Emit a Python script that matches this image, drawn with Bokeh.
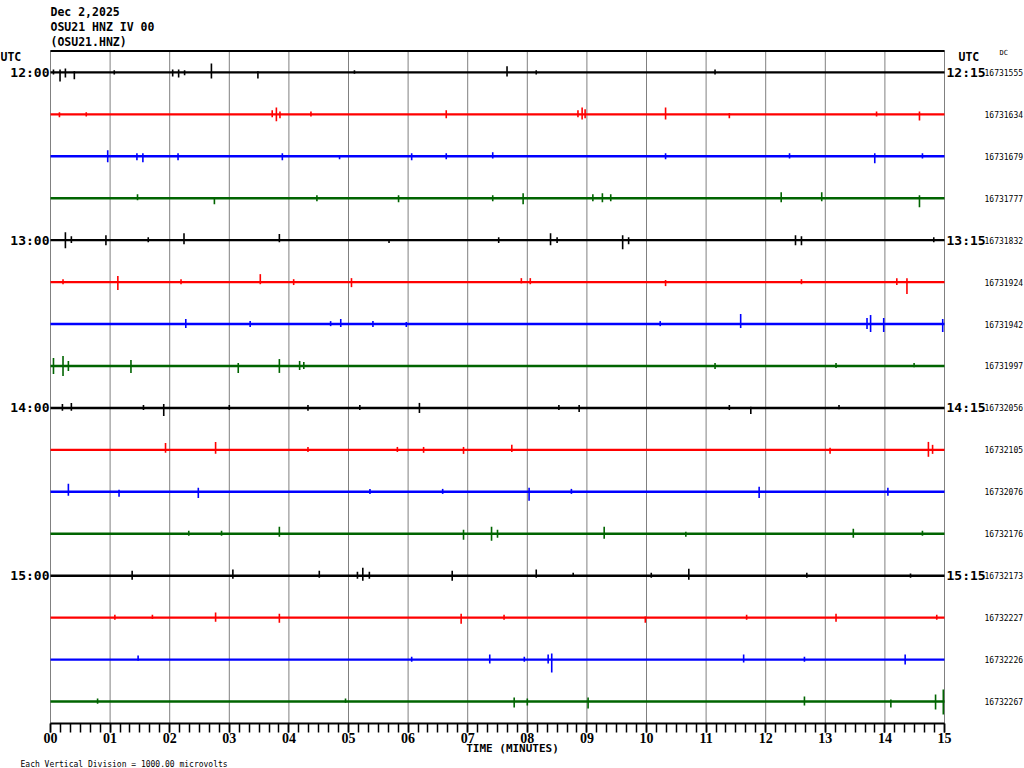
from bokeh.plotting import figure
from bokeh.models import Range1d, FixedTicker, Label, Title, ColumnDataSource
from bokeh.embed import file_html
from bokeh.resources import INLINE

# ---------------- data ----------------
date_text = "Dec 2,2025"
station_text = "OSU21 HNZ IV 00"
channel_text = "(OSU21.HNZ)"
scale_note = "Each Vertical Division = 1000.00 microvolts"
x_title = "TIME (MINUTES)"

left_hours = ["12:00", "13:00", "14:00", "15:00"]      # rows 0, 4, 8, 12
right_hours = ["12:15", "13:15", "14:15", "15:15"]
dc_values = ["16731555", "16731634", "16731679", "16731777",
             "16731832", "16731924", "16731942", "16731997",
             "16732056", "16732105", "16732076", "16732176",
             "16732173", "16732227", "16732226", "16732267"]
trace_colors = ["#000000", "#ff0000", "#0000ff", "#006400"]
minute_labels = ["%02d" % m for m in range(16)]

# seismic events per line: (minute, amplitude up [uV], amplitude down [uV])
ev_r00 = [(0.05, 70, 50), (0.16, 70, 215), (0.25, 95, 120), (0.40, 30, 165), (1.07, 50, 50),
          (2.05, 70, 95), (2.15, 70, 120), (2.25, 50, 70), (2.70, 215, 145), (3.48, 25, 145),
          (5.10, 50, 30), (7.66, 145, 95), (8.15, 50, 50), (11.15, 70, 50)]
ev_r01 = [(0.15, 50, 70), (0.60, 50, 50), (3.72, 95, 70), (3.79, 165, 165), (3.85, 70, 95),
          (4.37, 70, 50), (6.64, 95, 95), (8.85, 95, 70), (8.92, 165, 120), (8.97, 120, 95),
          (10.32, 165, 120), (11.39, 30, 95), (13.86, 70, 50), (14.58, 70, 145)]
ev_r02 = [(0.96, 145, 145), (1.45, 70, 95), (1.55, 70, 145), (2.14, 70, 95), (3.89, 70, 95),
          (4.85, 30, 70), (6.06, 70, 95), (6.64, 70, 70), (7.42, 95, 50), (10.32, 70, 70),
          (12.40, 70, 50), (13.83, 70, 165), (14.63, 70, 50)]
ev_r03 = [(1.46, 95, 50), (2.75, 30, 145), (4.47, 70, 70), (5.84, 70, 95), (7.42, 70, 70),
          (7.93, 120, 145), (9.10, 95, 70), (9.26, 120, 95), (9.40, 95, 70), (12.26, 145, 95),
          (12.94, 145, 70), (14.58, 70, 215)]
ev_r04 = [(0.25, 190, 190), (0.35, 95, 70), (0.93, 120, 120), (1.64, 70, 50), (2.24, 165, 95),
          (3.84, 145, 50), (5.68, 30, 70), (7.52, 70, 70), (8.39, 165, 120), (8.50, 70, 70),
          (9.60, 120, 215), (9.70, 70, 95), (12.50, 120, 120), (12.60, 95, 120), (14.82, 70, 50)]
ev_r05 = [(0.21, 70, 50), (1.13, 145, 190), (2.19, 70, 50), (3.52, 190, 50), (4.08, 70, 70),
          (5.05, 95, 120), (7.90, 95, 30), (8.05, 95, 50), (10.32, 50, 95), (12.60, 70, 50),
          (14.20, 95, 70), (14.37, 95, 285)]
ev_r06 = [(2.27, 120, 95), (3.35, 70, 70), (4.70, 70, 50), (4.87, 120, 70), (5.41, 70, 70),
          (5.97, 50, 70), (10.23, 70, 50), (11.58, 240, 95), (13.70, 145, 120), (13.76, 215, 190),
          (13.98, 145, 190), (14.97, 120, 190)]
ev_r07 = [(0.05, 190, 190), (0.21, 240, 240), (0.30, 120, 120), (1.35, 145, 165), (3.15, 70, 165),
          (3.84, 165, 165), (4.18, 120, 95), (4.25, 95, 70), (11.15, 70, 70), (13.18, 70, 50),
          (14.49, 70, 30)]
ev_r08 = [(0.20, 95, 70), (0.35, 120, 70), (1.56, 70, 50), (1.90, 95, 190), (3.00, 70, 50),
          (4.32, 70, 70), (5.19, 70, 50), (6.19, 120, 120), (8.53, 70, 50), (8.87, 70, 95),
          (11.39, 70, 50), (11.75, 30, 145), (13.23, 70, 30)]
ev_r09 = [(1.93, 165, 70), (2.77, 190, 95), (4.32, 70, 50), (5.82, 70, 50), (6.26, 70, 70),
          (6.93, 70, 95), (7.74, 120, 50), (13.08, 50, 95), (14.73, 190, 165), (14.80, 120, 95)]
ev_r10 = [(0.30, 190, 95), (1.15, 50, 120), (2.48, 95, 145), (5.36, 70, 50), (6.58, 70, 50),
          (8.03, 95, 215), (8.74, 70, 50), (11.89, 120, 145), (14.05, 95, 95)]
ev_r11 = [(2.32, 70, 50), (2.87, 70, 50), (3.84, 165, 70), (6.93, 95, 145), (7.40, 165, 165),
          (7.50, 95, 95), (9.29, 165, 120), (10.66, 50, 70), (13.47, 120, 95), (14.63, 70, 50)]
ev_r12 = [(1.37, 120, 95), (3.06, 145, 70), (4.51, 120, 50), (5.15, 95, 70), (5.24, 190, 120),
          (5.35, 95, 70), (6.74, 120, 120), (8.15, 145, 50), (8.77, 70, 30), (10.08, 70, 50),
          (10.71, 165, 95), (12.69, 70, 50), (14.43, 50, 50)]
ev_r13 = [(1.08, 70, 50), (1.71, 70, 30), (2.77, 120, 95), (3.84, 95, 120), (6.89, 95, 145),
          (7.61, 70, 50), (9.98, 30, 120), (11.68, 70, 50), (13.18, 95, 95), (14.87, 70, 50)]
ev_r14 = [(1.47, 95, 30), (6.06, 70, 50), (7.37, 120, 95), (7.95, 70, 50), (8.35, 120, 95),
          (8.41, 145, 310), (11.63, 120, 70), (12.65, 70, 50), (14.34, 120, 120)]
ev_r15 = [(0.79, 70, 50), (4.95, 70, 30), (7.78, 95, 145), (8.00, 70, 95), (9.02, 95, 165),
          (12.65, 120, 95), (14.10, 50, 145), (14.85, 165, 190), (14.98, 285, 310)]

events = [ev_r00, ev_r01, ev_r02, ev_r03, ev_r04, ev_r05, ev_r06, ev_r07,
          ev_r08, ev_r09, ev_r10, ev_r11, ev_r12, ev_r13, ev_r14, ev_r15]

UV_PER_DIV = 1000.0
N_ROWS = len(dc_values)
MINUTES = 15

# ---------------- layout (page pixels) ----------------
FIG_W, FIG_H = 1024, 768
PL, PT, PR, PB = 50, 50, 944, 724     # chart box
ROW0 = 72                             # first baseline
ROW_PX = 42.0
PX_PER_MIN = (PR - PL) / MINUTES

def ax(px):
    return (px - PL) / PX_PER_MIN

def ay(py):
    return (py - ROW0) / ROW_PX

TOP = ay(PT)
BOT = ay(PB)

# the frame covers the whole canvas above the time axis, so every text can live in it
p = figure(width=FIG_W, height=FIG_H, output_backend="svg", toolbar_location=None,
           x_range=Range1d(ax(0), ax(FIG_W)), y_range=Range1d(ay(PB), ay(0)),
           y_axis_location=None, min_border_left=0, min_border_top=0,
           min_border_right=0, min_border_bottom=FIG_H - PB)
p.outline_line_color = None
p.background_fill_color = "white"
p.border_fill_color = "white"
p.xgrid.grid_line_color = None
p.ygrid.grid_line_color = None

# x axis
ax_ = p.xaxis[0]
ax_.bounds = (0, MINUTES)
ax_.ticker = FixedTicker(ticks=list(range(MINUTES + 1)),
                         minor_ticks=[k / 6 for k in range(MINUTES * 6 + 1)])
ax_.major_label_overrides = {i: minute_labels[i] for i in range(MINUTES + 1)}
ax_.axis_line_color = "black"
ax_.axis_line_width = 2
ax_.major_tick_line_color = "black"
ax_.minor_tick_line_color = "black"
ax_.major_tick_line_width = 1.5
ax_.minor_tick_line_width = 1.5
ax_.major_tick_in = 0
ax_.major_tick_out = 9
ax_.minor_tick_in = 0
ax_.minor_tick_out = 9
ax_.major_label_standoff = 0
ax_.major_label_text_font = "Liberation Serif"
ax_.major_label_text_font_style = "bold"
ax_.major_label_text_font_size = "14px"
ax_.major_label_text_color = "black"
ax_.axis_label = x_title
ax_.axis_label_standoff = -4
ax_.axis_label_text_font = "DejaVu Sans Mono"
ax_.axis_label_text_font_style = "bold"
ax_.axis_label_text_font_size = "11px"
ax_.axis_label_text_color = "black"

p.add_layout(Title(text=scale_note, align="left", offset=20, standoff=0,
                   text_font="DejaVu Sans Mono", text_font_style="normal",
                   text_font_size="8px", text_color="black"), "below")

# minute grid lines and top border
minutes = list(range(MINUTES + 1))
p.segment(x0=minutes, x1=minutes, y0=[TOP] * len(minutes), y1=[BOT] * len(minutes),
          line_color="#808080", line_width=1)
p.segment(x0=[0], x1=[MINUTES], y0=[TOP + 0.5 / ROW_PX], y1=[TOP + 0.5 / ROW_PX],
          line_color="black", line_width=2)

# baselines
rows = list(range(N_ROWS))
cols = [trace_colors[r % 4] for r in rows]
p.segment(x0=[0] * N_ROWS, x1=[MINUTES] * N_ROWS, y0=rows, y1=rows,
          line_color=cols, line_width=2.4)

# events
ex, ey0, ey1, ec = [], [], [], []
for r, evs in enumerate(events):
    for (t, up, dn) in evs:
        ex.append(t)
        ey0.append(r - up / UV_PER_DIV)
        ey1.append(r + dn / UV_PER_DIV)
        ec.append(trace_colors[r % 4])
src = ColumnDataSource(dict(x=ex, y0=ey0, y1=ey1, c=ec))
p.segment(x0="x", x1="x", y0="y0", y1="y1", line_color="c", line_width=1.6, source=src)

MONO = "DejaVu Sans Mono"

def lab(x, y, text, size, align="left", bold=True):
    p.add_layout(Label(x=x, y=y, text=text, text_align=align, text_baseline="middle",
                       text_font=MONO, text_font_size=size,
                       text_font_style="bold" if bold else "normal",
                       text_color="black"))

# header
lab(ax(50), ay(12), date_text, "11.5px")
lab(ax(50), ay(27), station_text, "11.5px")
lab(ax(50), ay(42), channel_text, "11.5px")

# UTC labels
lab(ax(0), ay(57), "UTC", "11.5px")
lab(ax(958), ay(57), "UTC", "11.5px")
lab(ax(999), ay(53), "DC", "7px", bold=False)

for i, h in enumerate(left_hours):
    lab(ax(49), 4 * i, h, "13px", align="right")
for i, h in enumerate(right_hours):
    lab(ax(946), 4 * i, h, "13px", align="left")
for r, v in enumerate(dc_values):
    lab(ax(984), r, v, "8px", bold=False)

open("out.html", "w").write(file_html(p, INLINE))
